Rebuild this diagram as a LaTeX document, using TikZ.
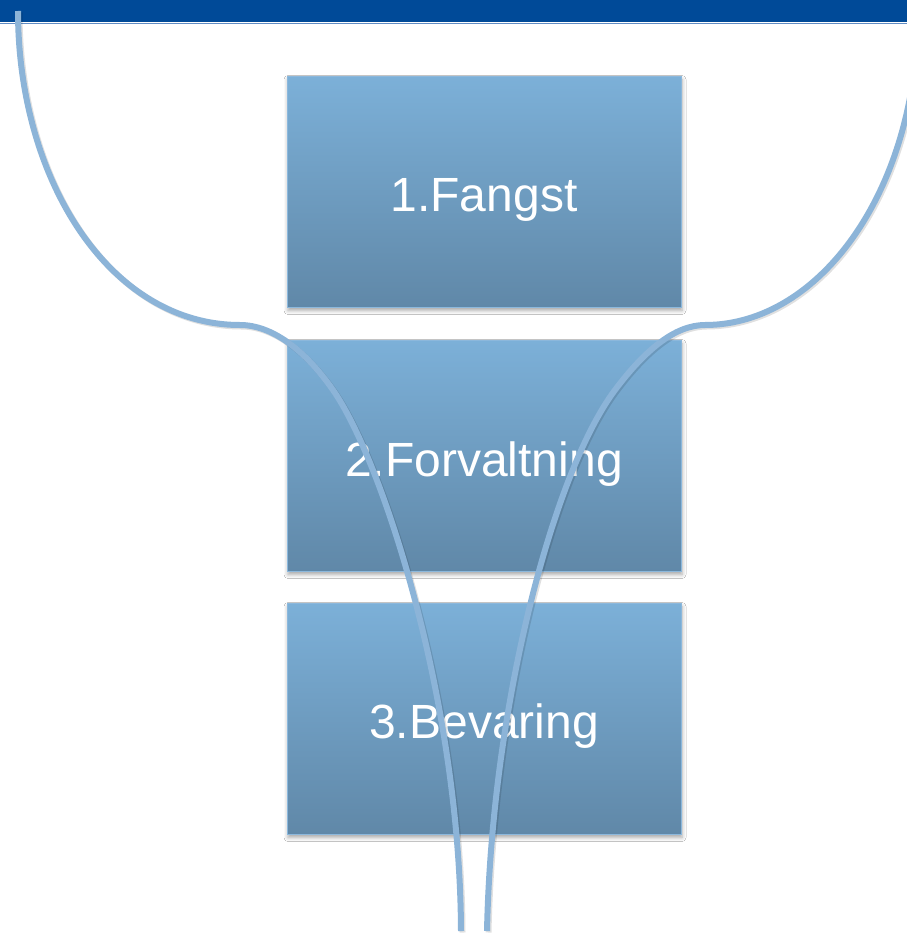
\documentclass[tikz,border=0pt]{standalone}
\usepackage{fontspec}
\setmainfont{Liberation Sans}
\usetikzlibrary{shadows.blur}
\definecolor{barblue}{RGB}{0,74,152}
\definecolor{barline}{RGB}{96,140,196}
\definecolor{boxtop}{RGB}{124,176,216}
\definecolor{boxbot}{RGB}{96,136,168}
\definecolor{boxedge}{RGB}{140,184,220}
\definecolor{funnel}{RGB}{140,180,216}
\tikzset{
  stage/.style={minimum width=394pt, minimum height=231pt, inner sep=0pt,
    top color=boxtop, bottom color=boxbot, draw=boxedge, line width=1pt,
    text=white, font=\fontsize{48}{58}\selectfont,
    blur shadow={shadow xshift=1pt, shadow yshift=-3pt, shadow blur radius=4pt, shadow opacity=35}},
  funnelline/.style={draw=funnel, line width=6pt, line cap=butt},
  funnelshadow/.style={draw=black, opacity=0.12, line width=6pt, line cap=butt},
}
\begin{document}
\begin{tikzpicture}[x=1pt,y=-1pt]
\useasboundingbox (0,0) rectangle (907,934);
\clip (0,0) rectangle (907,934);
\fill[white] (0,0) rectangle (907,934);
% top bar
\fill[barblue] (0,0) rectangle (907,22.5);
\draw[barline, line width=1.2pt] (0,23.2) -- (907,23.2);
% stages
\node[stage] (b1) at (484,192) {\raisebox{-19pt}[0pt][0pt]{1.Fangst}};
\node[stage] (b2) at (484,456) {\raisebox{-20pt}[0pt][0pt]{2.Forvaltning}};
\node[stage] (b3) at (484,719) {\raisebox{-19pt}[0pt][0pt]{3.Bevaring}};
% funnel shadow
\begin{scope}[xshift=1.5pt, yshift=-1.5pt]
\draw[funnelshadow] (18,11) .. controls (18,180) and (110,325) .. (240,325)
  .. controls (272,325) and (305,350) .. (333,390)
  .. controls (382,460) and (460,700) .. (461,931);
\draw[funnelshadow] (918,11) .. controls (918,190) and (820,325) .. (705,325)
  .. controls (675,325) and (645,350) .. (615,390)
  .. controls (555,470) and (492,700) .. (487,931);
\end{scope}
% funnel
\coordinate (ltop) at (18,11);
\coordinate (rtop) at (918,11);
\coordinate (lbot) at (461,931);
\coordinate (rbot) at (487,931);
\draw[funnelline] (ltop) .. controls (18,180) and (110,325) .. (240,325)
  .. controls (272,325) and (305,350) .. (333,390)
  .. controls (382,460) and (460,700) .. (lbot);
\draw[funnelline] (rtop) .. controls (918,190) and (820,325) .. (705,325)
  .. controls (675,325) and (645,350) .. (615,390)
  .. controls (555,470) and (492,700) .. (rbot);
\end{tikzpicture}
\end{document}
